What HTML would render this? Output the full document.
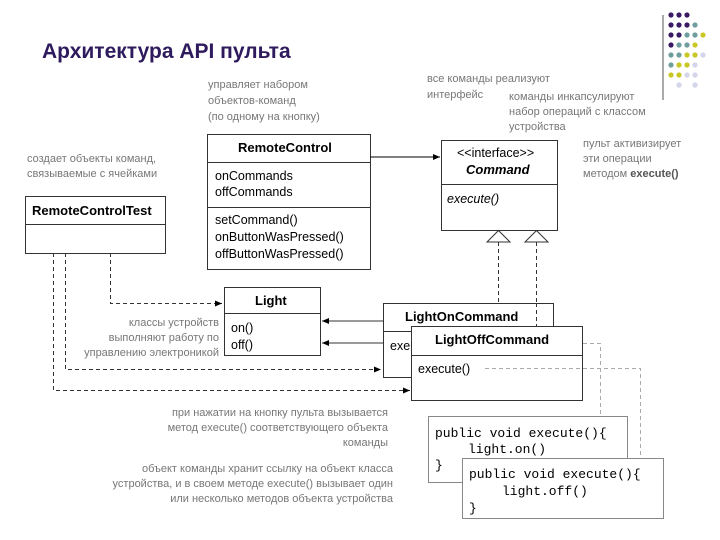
<!DOCTYPE html>
<html><head><meta charset="utf-8"><style>
html,body{margin:0;padding:0;background:#fff;}
svg{display:block;}
text{font-family:"Liberation Sans","DejaVu Sans",sans-serif;}
.g{fill:#777;font-size:11px;}
.b{font-weight:bold;font-size:13px;fill:#000;}
.m{font-size:12.5px;fill:#000;}
.c{font-family:"Liberation Mono","DejaVu Sans Mono",monospace;font-size:13px;fill:#000;white-space:pre;}
</style></head><body>
<svg width="720" height="540" viewBox="0 0 720 540" xmlns="http://www.w3.org/2000/svg">
<defs>
<marker id="a" markerWidth="8" markerHeight="8" refX="7" refY="4" orient="auto"><path d="M0,1 L7,4 L0,7z" fill="#000"/></marker>
</defs>
<line x1="663" y1="15" x2="663" y2="100" stroke="#555" stroke-width="1"/>
<g>
<circle cx="671" cy="15" r="2.6" fill="#3a1a63"/><circle cx="679" cy="15" r="2.6" fill="#3a1a63"/><circle cx="687" cy="15" r="2.6" fill="#3a1a63"/>
<circle cx="671" cy="25" r="2.6" fill="#3a1a63"/><circle cx="679" cy="25" r="2.6" fill="#3a1a63"/><circle cx="687" cy="25" r="2.6" fill="#3a1a63"/><circle cx="695" cy="25" r="2.6" fill="#6f9e9e"/>
<circle cx="671" cy="35" r="2.6" fill="#3a1a63"/><circle cx="679" cy="35" r="2.6" fill="#3a1a63"/><circle cx="687" cy="35" r="2.6" fill="#6f9e9e"/><circle cx="695" cy="35" r="2.6" fill="#6f9e9e"/><circle cx="703" cy="35" r="2.6" fill="#c9c726"/>
<circle cx="671" cy="45" r="2.6" fill="#3a1a63"/><circle cx="679" cy="45" r="2.6" fill="#6f9e9e"/><circle cx="687" cy="45" r="2.6" fill="#6f9e9e"/><circle cx="695" cy="45" r="2.6" fill="#c9c726"/>
<circle cx="671" cy="55" r="2.6" fill="#6f9e9e"/><circle cx="679" cy="55" r="2.6" fill="#6f9e9e"/><circle cx="687" cy="55" r="2.6" fill="#c9c726"/><circle cx="695" cy="55" r="2.6" fill="#c9c726"/><circle cx="703" cy="55" r="2.6" fill="#d4d4ea"/>
<circle cx="671" cy="65" r="2.6" fill="#6f9e9e"/><circle cx="679" cy="65" r="2.6" fill="#c9c726"/><circle cx="687" cy="65" r="2.6" fill="#c9c726"/><circle cx="695" cy="65" r="2.6" fill="#d4d4ea"/>
<circle cx="671" cy="75" r="2.6" fill="#c9c726"/><circle cx="679" cy="75" r="2.6" fill="#c9c726"/><circle cx="687" cy="75" r="2.6" fill="#d4d4ea"/><circle cx="695" cy="75" r="2.6" fill="#d4d4ea"/>
<circle cx="679" cy="85" r="2.6" fill="#d4d4ea"/><circle cx="695" cy="85" r="2.6" fill="#d4d4ea"/>
</g>
<text x="42" y="58" style="font-size:21px;font-weight:bold;fill:#2e1a5c">Архитектура API пульта</text>

<text class="g" x="208" y="88">управляет набором</text>
<text class="g" x="208" y="104">объектов-команд</text>
<text class="g" x="208" y="120">(по одному на кнопку)</text>
<text class="g" x="427" y="82">все команды реализуют</text>
<text class="g" x="427" y="98">интерфейс</text>
<text class="g" x="509" y="100">команды инкапсулируют</text>
<text class="g" x="509" y="115">набор операций с классом</text>
<text class="g" x="509" y="130">устройства</text>
<text class="g" x="583" y="147">пульт активизирует</text>
<text class="g" x="583" y="162">эти операции</text>
<text class="g" x="583" y="177">методом <tspan style="font-weight:bold;fill:#555">execute()</tspan></text>
<text class="g" x="27" y="162">создает объекты команд,</text>
<text class="g" x="27" y="177">связываемые с ячейками</text>

<g fill="#fff" stroke="#333" stroke-width="1">
<rect x="25.5" y="196.5" width="140" height="57"/>
<line x1="25" y1="224.5" x2="166" y2="224.5"/>
<rect x="207.5" y="134.5" width="163" height="135"/>
<line x1="207" y1="162.5" x2="371" y2="162.5"/>
<line x1="207" y1="207.5" x2="371" y2="207.5"/>
<rect x="441.5" y="140.5" width="116" height="90"/>
<line x1="441" y1="184.5" x2="558" y2="184.5"/>
<rect x="224.5" y="287.5" width="96" height="68"/>
<line x1="224" y1="313.5" x2="321" y2="313.5"/>
</g>
<text class="b" x="32" y="215">RemoteControlTest</text>
<text class="b" x="238" y="152">RemoteControl</text>
<text class="m" x="215" y="180">onCommands</text>
<text class="m" x="215" y="196">offCommands</text>
<text class="m" x="215" y="224">setCommand()</text>
<text class="m" x="215" y="241">onButtonWasPressed()</text>
<text class="m" x="215" y="258">offButtonWasPressed()</text>
<text class="m" x="457" y="157">&lt;&lt;interface&gt;&gt;</text>
<text class="b" x="466" y="174" style="font-style:italic">Command</text>
<text class="m" x="447" y="203" style="font-style:italic">execute()</text>
<text class="b" x="255" y="305">Light</text>
<text class="m" x="231" y="332">on()</text>
<text class="m" x="231" y="349">off()</text>

<line x1="370" y1="157" x2="440" y2="157" stroke="#000" marker-end="url(#a)"/>
<path d="M498.5,230.5 L487,242 L510,242z M536.5,230.5 L525,242 L548,242z" fill="#fff" stroke="#333"/>
<g stroke="#333" stroke-dasharray="4,3" fill="none">
<line x1="498.5" y1="242" x2="498.5" y2="303"/>
<line x1="536.5" y1="242" x2="536.5" y2="326"/>
<path d="M110.5,253 V303.5 H222" marker-end="url(#a)"/>
<path d="M65.5,253 V369.5 H381" marker-end="url(#a)"/>
<path d="M53.5,253 V390.5 H410" marker-end="url(#a)"/>
</g>
<text class="g" x="219" y="326" text-anchor="end">классы устройств</text>
<text class="g" x="219" y="341" text-anchor="end">выполняют работу по</text>
<text class="g" x="219" y="356" text-anchor="end">управлению электроникой</text>

<g fill="#fff" stroke="#333">
<rect x="383.5" y="303.5" width="170" height="74"/>
<line x1="383" y1="331.5" x2="554" y2="331.5"/>
</g>
<text class="b" x="405" y="321">LightOnCommand</text>
<text class="m" x="390" y="350">exe</text>
<line x1="536.5" y1="303" x2="536.5" y2="326" stroke="#333" stroke-dasharray="4,3"/>
<line x1="383" y1="321" x2="322" y2="321" stroke="#333" marker-end="url(#a)"/>
<line x1="383" y1="343" x2="322" y2="343" stroke="#333" marker-end="url(#a)"/>
<g fill="#fff" stroke="#333">
<rect x="411.5" y="326.5" width="171" height="74"/>
<line x1="411" y1="355.5" x2="583" y2="355.5"/>
</g>
<text class="b" x="435" y="344">LightOffCommand</text>
<text class="m" x="418" y="373">execute()</text>

<g stroke="#aaa" stroke-dasharray="4,3" fill="none">
<path d="M583,343.5 H600.5 V417"/>
<path d="M485,368.5 H640.5 V458"/>
</g>

<text class="g" x="388" y="416" text-anchor="end">при нажатии на кнопку пульта вызывается</text>
<text class="g" x="388" y="431" text-anchor="end">метод execute() соответствующего объекта</text>
<text class="g" x="388" y="446" text-anchor="end">команды</text>
<text class="g" x="393" y="472" text-anchor="end">объект команды хранит ссылку на объект класса</text>
<text class="g" x="393" y="487" text-anchor="end">устройства, и в своем методе execute() вызывает один</text>
<text class="g" x="393" y="502" text-anchor="end">или несколько методов объекта устройства</text>

<rect x="428.5" y="416.5" width="199" height="66" fill="#fff" stroke="#888"/>
<text class="c" x="435" y="437">public void execute(){</text>
<text class="c" x="468" y="453">light.on()</text>
<text class="c" x="435" y="469">}</text>
<rect x="462.5" y="458.5" width="201" height="60" fill="#fff" stroke="#888"/>
<text class="c" x="469" y="478">public void execute(){</text>
<text class="c" x="502" y="495">light.off()</text>
<text class="c" x="469" y="512">}</text>
</svg>
</body></html>
